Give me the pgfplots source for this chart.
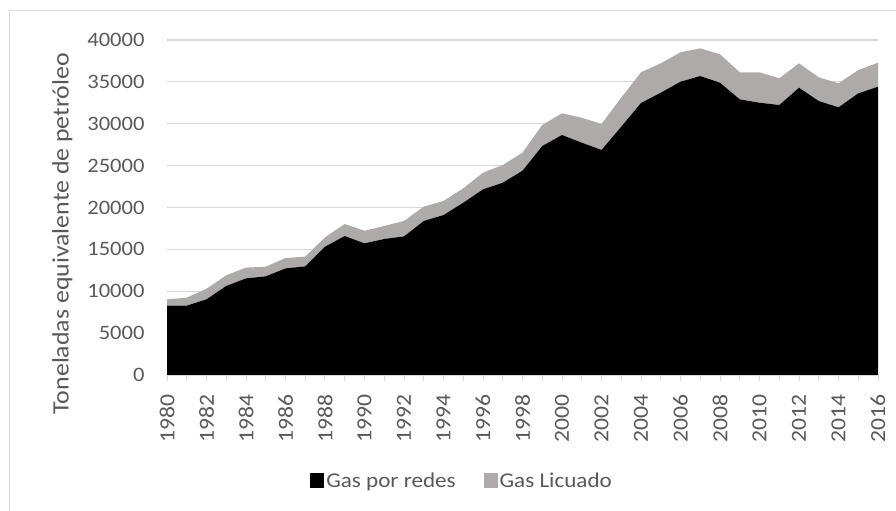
\documentclass[border=0pt]{standalone}
\usepackage{fontspec}
\setmainfont{Carlito}[FakeStretch=1.1]
\usepackage{pgfplots}
\usepackage{pgfplotstable}
\pgfplotsset{compat=1.18}
\definecolor{txt}{HTML}{595959}
\definecolor{gridc}{HTML}{D9D9D9}
\definecolor{lic}{HTML}{AEAAAA}
\pgfplotstableread{
year redes licuado
1980 8280 760
1981 8280 950
1982 9040 1260
1983 10630 1270
1984 11540 1280
1985 11780 1150
1986 12730 1240
1987 12970 1160
1988 15320 1120
1989 16600 1430
1990 15720 1510
1991 16240 1550
1992 16550 1840
1993 18390 1710
1994 19100 1680
1995 20570 1720
1996 22170 1990
1997 22960 2110
1998 24390 2160
1999 27340 2510
2000 28660 2590
2001 27740 2980
2002 26870 3100
2003 29650 3460
2004 32480 3670
2005 33710 3500
2006 35020 3510
2007 35700 3300
2008 34900 3390
2009 32920 3220
2010 32510 3630
2011 32240 3190
2012 34300 2910
2013 32720 2820
2014 31960 2870
2015 33630 2780
2016 34420 2870
}\datatable
\begin{document}
\begin{tikzpicture}
\useasboundingbox (0,0) rectangle (896bp,511bp);
\draw[gridc, line width=1bp] (9bp,0) -- (9bp,500bp) -- (896bp,500bp);
\begin{axis}[
  at={(167bp,136bp)}, anchor=south west,
  scale only axis, width=711bp, height=335bp,
  xmin=1980, xmax=2016, ymin=0, ymax=40000,
  stack plots=y,
  axis lines*=left,
  x axis line style={gridc, line width=1bp},
  y axis line style={draw=none},
  ymajorgrids, grid style={gridc, line width=1.2bp},
  ytick={0,5000,...,40000},
  scaled y ticks=false,
  xtick={1980,1982,...,2016},
  minor xtick={1981,1983,...,2015},
  xtick style={gridc, line width=1bp},
  minor x tick style={gridc, line width=1bp},
  major tick length=6bp, minor tick length=6bp,
  tick align=outside,
  ytick style={draw=none},
  /pgf/number format/assume math mode=true,
  /pgf/number format/1000 sep={},
  tick label style={font=\fontsize{20.5bp}{25bp}\selectfont, text=txt},
  xticklabel style={rotate=90, anchor=east, xshift=-10bp, font=\fontsize{21.5bp}{25bp}\selectfont},
  yticklabel style={xshift=-13bp},
  ylabel={Toneladas equivalente de petróleo},
  ylabel style={font=\fontsize{23.5bp}{28bp}\selectfont, text=txt, at={(axis description cs:-0.147,0.422)}, anchor=center},
  legend columns=2,
  legend style={at={(axis description cs:0.415,-0.316)}, anchor=center, draw=none, fill=none,
    font=\fontsize{21bp}{25bp}\selectfont, text=txt,
    /tikz/every even column/.append style={column sep=26bp}},
  legend cell align=left,
  legend image code/.code={\fill[#1] (0bp,-7.5bp) rectangle (14bp,7.5bp);},
]
\addplot[fill=black, draw=none] table[x=year, y=redes] {\datatable} \closedcycle;
\addlegendentry{Gas por redes}
\addplot[fill=lic, draw=none] table[x=year, y=licuado] {\datatable} \closedcycle;
\addlegendentry{Gas Licuado}
\end{axis}
\end{tikzpicture}
\end{document}
